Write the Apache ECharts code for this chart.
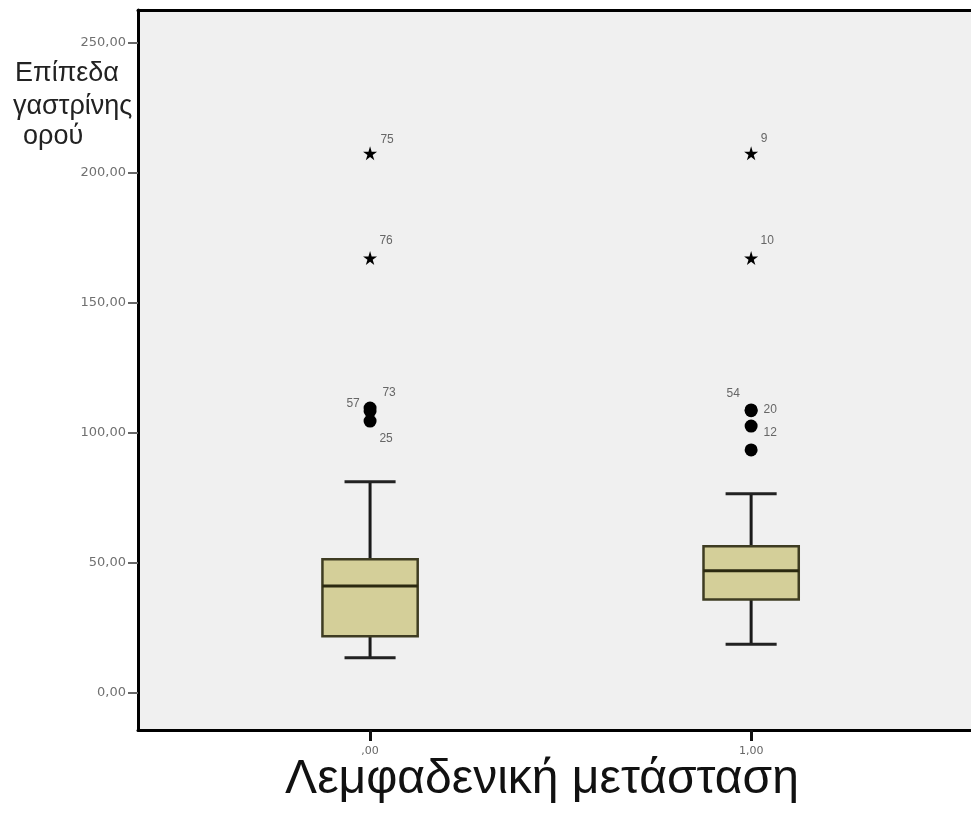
<!DOCTYPE html>
<html><head><meta charset="utf-8">
<script src="https://cdn.jsdelivr.net/npm/echarts@6/dist/echarts.min.js"></script>
<style>html,body{margin:0;padding:0;background:#fff}#c{width:971px;height:816px}</style>
</head><body><div id="c"></div>
<script>
// ---- data ----
const groups = [0, 1];
const xTickLabels = [',00', '1,00'];
const yTicks = [0, 50, 100, 150, 200, 250];
const yTickLabels = ['0,00', '50,00', '100,00', '150,00', '200,00', '250,00'];
const whiskerLow = [13.6, 18.8];
const q1 = [21.9, 36.0];
const median = [41.2, 47.0];
const q3 = [51.5, 56.5];
const whiskerHigh = [81.3, 76.7];
const outlierGroup = [0, 0, 0, 1, 1, 1, 1];
const outlierValue = [109.6, 108.5, 104.6, 108.9, 108.6, 102.7, 93.5];
const outlierCase = ['73', '57', '25', '54', '20', '12', ''];
const extremeGroup = [0, 0, 1, 1];
const extremeValue = [207.6, 167.3, 207.6, 167.3];
const extremeCase = ['75', '76', '9', '10'];

// ---- styles (label offsets per case, px) ----
const outlierLabelOffset = [[19, -15], [-17, -7], [16, 18], [-18, -16], [19, -1], [19, 7], [0, 0]];
const extremeLabelOffset = [[17, -14], [16, -17], [13, -15], [16, -17]];
const starPath = 'path://M50,0 L61,35 L98,35 L68,57 L79,91 L50,70 L21,91 L32,57 L2,35 L39,35 Z';
const labelStyle = { color: '#666', fontSize: 12, fontFamily: 'Liberation Sans, Arial, sans-serif', align: 'center', verticalAlign: 'middle' };
const greekFont = 'Liberation Sans, Arial, sans-serif';

const chart = echarts.init(document.getElementById('c'), null, { renderer: 'canvas' });

const boxData = groups.map((g, i) => [g, whiskerLow[i], q1[i], median[i], q3[i], whiskerHigh[i]]);

const outlierData = outlierValue.map((v, i) => ({
  value: [outlierGroup[i], v],
  label: Object.assign({ show: outlierCase[i] !== '', formatter: outlierCase[i], position: 'inside', offset: outlierLabelOffset[i] }, labelStyle)
}));
const extremeData = extremeValue.map((v, i) => ({
  value: [extremeGroup[i], v],
  label: Object.assign({ show: true, formatter: extremeCase[i], position: 'inside', offset: extremeLabelOffset[i] }, labelStyle)
}));

const xMin = -0.609, xMax = 1.577;

const option = {
  animation: false,
  backgroundColor: '#ffffff',
  grid: {
    left: 138, top: 10, right: 0, bottom: 86,
    show: true, backgroundColor: '#f0f0f0', borderWidth: 0
  },
  xAxis: [{
    type: 'value', min: xMin, max: xMax, position: 'bottom',
    splitLine: { show: false },
    axisLine: { show: true, onZero: false, lineStyle: { color: '#000', width: 3 } },
    axisTick: { show: true, customValues: groups, length: 11, lineStyle: { color: '#111', width: 3 } },
    axisLabel: {
      show: true, customValues: groups, margin: 16,
      formatter: v => xTickLabels[groups.indexOf(v)],
      color: '#666', fontSize: 11, fontFamily: 'DejaVu Sans, sans-serif'
    }
  }, {
    type: 'value', min: xMin, max: xMax, position: 'top',
    splitLine: { show: false },
    axisLine: { show: true, onZero: false, lineStyle: { color: '#000', width: 3 } },
    axisTick: { show: false },
    axisLabel: { show: false }
  }],
  yAxis: {
    type: 'value', min: -14.2, max: 262.7,
    splitLine: { show: false },
    axisLine: { show: true, onZero: false, lineStyle: { color: '#000', width: 3 } },
    axisTick: { show: true, customValues: yTicks, length: 10, lineStyle: { color: '#666', width: 2 } },
    axisLabel: {
      show: true, customValues: yTicks, margin: 12,
      formatter: v => yTickLabels[yTicks.indexOf(v)],
      color: '#707070', fontSize: 13, fontFamily: 'DejaVu Sans, sans-serif'
    }
  },
  graphic: [
    { type: 'text', left: 15, top: 60, style: { text: 'Επίπεδα', fill: '#222', fontSize: 27, fontFamily: greekFont } },
    { type: 'text', left: 13, top: 93, style: { text: 'γαστρίνης', fill: '#222', fontSize: 27, fontFamily: greekFont } },
    { type: 'text', left: 23, top: 123, style: { text: 'ορού', fill: '#222', fontSize: 27, fontFamily: greekFont } },
    { type: 'text', x: 542, y: 780, style: { text: 'Λεμφαδενική μετάσταση', fill: '#111', fontSize: 48, fontFamily: greekFont, align: 'center', verticalAlign: 'middle' } }
  ],
  series: [
    {
      type: 'custom',
      data: boxData,
      encode: { x: 0, y: [1, 2, 3, 4, 5] },
      z: 3,
      renderItem: function (params, api) {
        const x = api.value(0);
        const lo = api.coord([x, api.value(1)]);
        const b1 = api.coord([x, api.value(2)]);
        const md = api.coord([x, api.value(3)]);
        const b3 = api.coord([x, api.value(4)]);
        const hi = api.coord([x, api.value(5)]);
        const bw = api.size([0.25, 0])[0];
        const cw = api.size([0.134, 0])[0];
        const cx = lo[0];
        const lineStyle = { stroke: '#1a1a1a', lineWidth: 3 };
        return {
          type: 'group',
          children: [
            { type: 'line', shape: { x1: cx, y1: hi[1], x2: cx, y2: b3[1] }, style: lineStyle },
            { type: 'line', shape: { x1: cx, y1: b1[1], x2: cx, y2: lo[1] }, style: lineStyle },
            { type: 'line', shape: { x1: cx - cw / 2, y1: hi[1], x2: cx + cw / 2, y2: hi[1] }, style: { stroke: '#222', lineWidth: 3 } },
            { type: 'line', shape: { x1: cx - cw / 2, y1: lo[1], x2: cx + cw / 2, y2: lo[1] }, style: { stroke: '#222', lineWidth: 3 } },
            { type: 'rect', shape: { x: cx - bw / 2, y: b3[1], width: bw, height: b1[1] - b3[1] }, style: { fill: '#d4cf99', stroke: '#3e3c22', lineWidth: 2.5 } },
            { type: 'line', shape: { x1: cx - bw / 2, y1: md[1], x2: cx + bw / 2, y2: md[1] }, style: { stroke: '#2b2910', lineWidth: 3 } }
          ]
        };
      }
    },
    {
      type: 'scatter', data: outlierData, symbol: 'circle', symbolSize: 13,
      itemStyle: { color: '#000', opacity: 1 }, z: 4
    },
    {
      type: 'scatter', data: extremeData, symbol: starPath, symbolSize: 14,
      itemStyle: { color: '#000', opacity: 1 }, z: 4
    }
  ]
};
chart.setOption(option);
</script>
</body></html>
